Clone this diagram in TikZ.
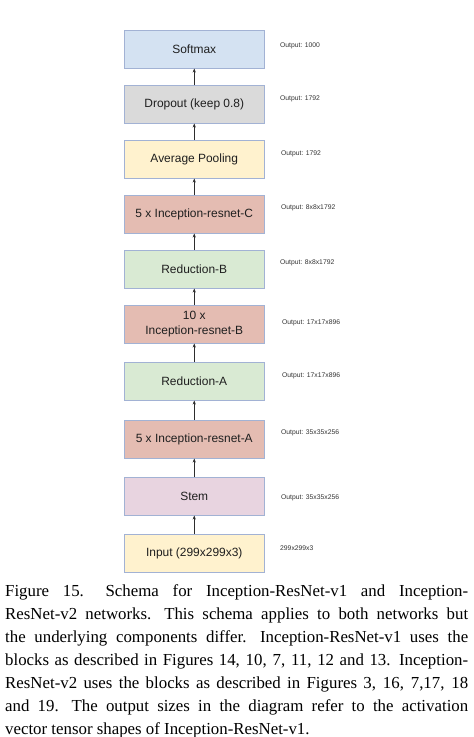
\documentclass[tikz,border=0pt]{standalone}
\usepackage{fontspec}
\setmainfont{Liberation Serif}
\newfontfamily\boxfont{Liberation Sans}
\usetikzlibrary{arrows.meta}
\definecolor{cblue}{RGB}{212,226,242}
\definecolor{cgrey}{RGB}{218,218,218}
\definecolor{cyell}{RGB}{255,242,206}
\definecolor{cred}{RGB}{228,188,178}
\definecolor{cgreen}{RGB}{217,234,211}
\definecolor{cstem}{RGB}{232,212,224}
\definecolor{cborder}{RGB}{162,178,212}
\definecolor{carrow}{RGB}{45,45,45}
\newcommand\capline[1]{\hbox to 463bp{#1}}
\begin{document}
\begin{tikzpicture}[x=1bp,y=1bp,
  layer/.style={draw=cborder, line width=1bp, minimum width=139.5bp, minimum height=37.5bp,
    inner sep=1bp, align=center, anchor=north, text=black!88,
    font=\boxfont\fontsize{12}{14.5}\selectfont},
  outlbl/.style={anchor=west, inner sep=0pt, text=black!80,
    font=\boxfont\fontsize{6.8}{8}\selectfont},
  flow/.style={draw=carrow, line width=0.8bp, -{Stealth[length=4bp,width=3.2bp]}}]
\useasboundingbox (0,0) rectangle (474,-737);
\node[layer, fill=cblue]  (soft) at (194.25,-30)  {Softmax};
\node[layer, fill=cgrey]  (drop) at (194.25,-85)  {Dropout (keep 0.8)};
\node[layer, fill=cyell]  (pool) at (194.25,-140) {Average Pooling};
\node[layer, fill=cred]   (ic)   at (194.25,-195) {5 x Inception-resnet-C};
\node[layer, fill=cgreen] (rb)   at (194.25,-250) {Reduction-B};
\node[layer, fill=cred]   (ib)   at (194.25,-305) {10 x\\Inception-resnet-B};
\node[layer, fill=cgreen] (ra)   at (194.25,-362) {Reduction-A};
\node[layer, fill=cred]   (ia)   at (194.25,-420) {5 x Inception-resnet-A};
\node[layer, fill=cstem]  (stem) at (194.25,-477) {Stem};
\node[layer, fill=cyell]  (inp)  at (194.25,-534) {Input (299x299x3)};
\draw[flow] (inp)  -- (stem);
\draw[flow] (stem) -- (ia);
\draw[flow] (ia)   -- (ra);
\draw[flow] (ra)   -- (ib);
\draw[flow] (ib)   -- (rb);
\draw[flow] (rb)   -- (ic);
\draw[flow] (ic)   -- (pool);
\draw[flow] (pool) -- (drop);
\draw[flow] (drop) -- (soft);
\node[outlbl] (l1)  at (280,-46)  {Output: 1000};
\node[outlbl] (l2)  at (280,-99)  {Output: 1792};
\node[outlbl] (l3)  at (281,-154) {Output: 1792};
\node[outlbl] (l4)  at (281,-208) {Output: 8x8x1792};
\node[outlbl] (l5)  at (280,-263) {Output: 8x8x1792};
\node[outlbl] (l6)  at (282,-323) {Output: 17x17x896};
\node[outlbl] (l7)  at (282,-376) {Output: 17x17x896};
\node[outlbl] (l8)  at (281,-433) {Output: 35x35x256};
\node[outlbl] (l9)  at (281,-498) {Output: 35x35x256};
\node[outlbl] (l10) at (280,-548) {299x299x3};
\node[anchor=base west, inner sep=0pt,
  font=\fontsize{16.9}{22.9}\selectfont] (cap) at (5,-734)
 {\vbox{\hsize=463bp \baselineskip=22.9bp \lineskip=0pt
  \xspaceskip=0.38em plus 0.2em minus 0.06em
  \capline{Figure 15. Schema for Inception-ResNet-v1 and Inception-}
  \capline{ResNet-v2 networks. This schema applies to both networks but}
  \capline{the underlying components differ. Inception-ResNet-v1 uses the}
  \capline{blocks as described in Figures 14, 10, 7, 11, 12 and 13. Inception-}
  \capline{ResNet-v2 uses the blocks as described in Figures 3, 16, 7,17, 18}
  \capline{and 19. The output sizes in the diagram refer to the activation}
  \hbox{vector tensor shapes of Inception-ResNet-v1.}}};
\end{tikzpicture}
\end{document}
